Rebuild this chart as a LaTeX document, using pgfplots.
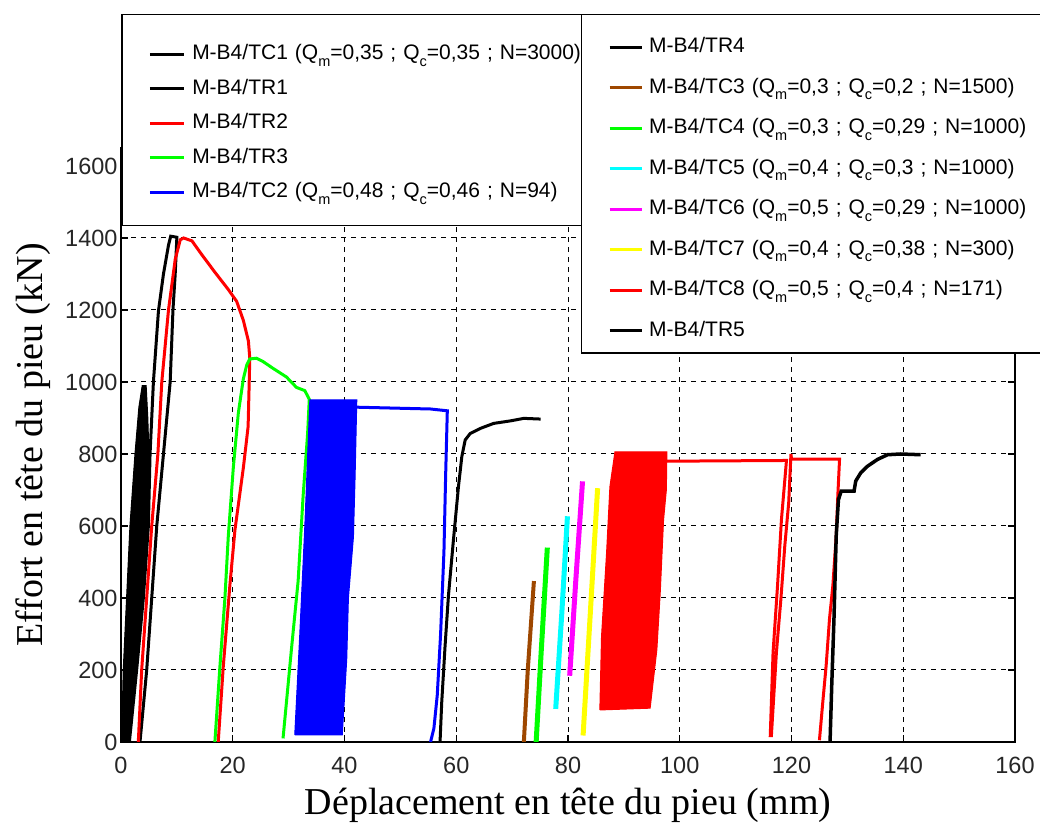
\documentclass[border=0pt]{standalone}
\usepackage{fontspec}
\setmainfont{Liberation Sans}
\newfontfamily\seriffont{Liberation Serif}
\usepackage{pgfplots}
\pgfplotsset{compat=1.18}
\definecolor{brownc}{rgb}{0.62,0.28,0.0}
\definecolor{mygreen}{rgb}{0,1,0}
\definecolor{mycyan}{rgb}{0,1,1}
\definecolor{mymagenta}{rgb}{1,0,1}
\definecolor{myyellow}{rgb}{1,1,0}
\definecolor{myred}{rgb}{1,0,0}
\definecolor{myblue}{rgb}{0,0,1}
\newcommand\sub[1]{\raisebox{-0.32em}{\fontsize{14.5bp}{14.5bp}\selectfont #1}}
\begin{document}
\begin{tikzpicture}
\begin{axis}[
  at={(121bp,81bp)}, anchor=south west,
  scale only axis, width=894bp, height=594bp,
  xmin=0, xmax=160, ymin=0, ymax=1650,
  xtick={0,20,...,160}, ytick={0,200,...,1600},
  grid=major,
  major grid style={black, line width=1bp, dash pattern=on 5bp off 5bp},
  axis line style={black, line width=1.5bp},
  tick align=inside, major tick length=7bp,
  tick style={black, line width=1.2bp},
  ticklabel style={font=\fontsize{23.5bp}{28bp}\selectfont, text=black!85},
  /pgf/number format/assume math mode=true,
  /pgf/number format/1000 sep={},
  xticklabel style={yshift=-12bp},
  xlabel={Déplacement en tête du pieu (mm)},
  ylabel={Effort en tête du pieu (kN)},
  xlabel style={at={(axis description cs:0.5,0)}, anchor=base, yshift=-72bp, font=\seriffont\fontsize{38bp}{40bp}\selectfont},
  ylabel style={at={(axis description cs:-0.08837,0.5)}, anchor=base, font=\seriffont\fontsize{38bp}{40bp}\selectfont},
  legend style={at={(axis description cs:0,1.2256)}, anchor=north west, draw=black, line width=1.5bp, fill=white,
    inner xsep=0bp, inner ysep=21bp, row sep=3.5bp, font=\fontsize{21bp}{25bp}\selectfont,
    nodes={inner sep=1bp, text height=23bp, text depth=6bp},
    /tikz/every even column/.append style={text width=400bp, align=left},
    /tikz/every odd column/.append style={column sep=6bp}},
  legend cell align=left,
  legend image code/.code={\path[draw=none, fill=none] (0bp,-10bp) rectangle (1bp,10bp); \draw[#1, line width=3bp] (28bp,-3bp) -- (62bp,-3bp);},
]
% TC1 cyclic band
\addplot[black, fill=black, line width=1bp] coordinates {
(0.1,0) (0.4,200) (1.0,400) (1.6,600) (2.5,800) (3.2,930) (3.8,990) (4.5,990) (4.8,900) (5.0,800) (4.8,600) (3.9,400) (2.7,200) (1.5,0) (0.1,0)};
\addlegendentry{M-B4/TC1 (Q\sub{m}=0,35 ; Q\sub{c}=0,35 ; N=3000)}
% TR1
\addplot[black, line width=3bp] coordinates {
(1.5,0) (2.8,200) (4.0,400) (4.9,600) (5.2,800) (5.8,1000) (6.7,1197) (7.6,1300) (8.5,1380) (8.9,1405) (10.0,1402) (9.7,1300) (9.3,1200) (8.8,1000) (7.6,800) (6.4,600) (5.5,400) (4.6,200) (3.4,0)};
\addlegendentry{M-B4/TR1}
% TR2
\addplot[myred, line width=3bp] coordinates {
(3.1,0) (3.7,200) (4.6,400) (5.5,600) (6.6,800) (7.3,1000) (8.5,1200) (9.7,1340) (10.6,1395) (11.2,1400) (12.7,1392) (14.4,1355) (16.8,1305) (19.2,1257) (20.7,1224) (21.9,1171) (22.8,1114) (23.05,1066) (22.75,876) (21.9,762) (20.4,590) (19.5,438) (18.3,209) (17.4,0)};
\addlegendentry{M-B4/TR2}
% TR3
\addplot[mygreen, line width=3bp] coordinates {
(16.8,0) (17.7,209) (18.6,400) (19.2,571) (20.1,762) (21.0,914) (21.9,1009) (22.5,1047) (23.05,1064) (24.25,1066) (25.4,1057) (27.2,1038) (29.6,1014) (31.4,985) (32.9,976) (33.7,952) (33.4,857) (32.6,685) (31.7,447) (30.5,257) (29.0,10)};
\addlegendentry{M-B4/TR3}
% TC2 cyclic block
\addplot[myblue, fill=myblue, line width=1bp] coordinates {
(31.1,20) (32.0,300) (32.9,600) (33.8,950) (42.2,950) (41.9,740) (41.6,570) (40.7,400) (40.4,230) (39.6,20) (31.1,20)};
\addlegendentry{M-B4/TC2 (Q\sub{m}=0,48 ; Q\sub{c}=0,46 ; N=94)}
\addplot[myblue, line width=3bp, forget plot] coordinates {
(42.2,930) (55.4,925) (58.4,920) (58.1,740) (57.8,530) (57.2,300) (56.6,130) (56.0,38) (55.4,0)};
% TR4
\addplot[black, line width=3bp, forget plot] coordinates {
(57.1,0) (57.4,110) (58.0,267) (58.6,406) (59.5,562) (60.4,710) (61.0,793) (61.6,839) (62.5,857) (64.3,871) (66.7,885) (69.7,892) (72.1,899) (75.1,897)};
% TC3 - TC7
\addplot[brownc, line width=4bp, forget plot] coordinates {(72.1,0) (72.8,200) (73.9,447)};
\addplot[mygreen, line width=5bp, forget plot] coordinates {(74.3,0) (75.2,250) (76.3,540)};
\addplot[mycyan, line width=5bp, forget plot] coordinates {(77.8,92) (78.9,360) (79.9,627)};
\addplot[mymagenta, line width=5bp, forget plot] coordinates {(80.3,184) (81.4,450) (82.6,724)};
\addplot[myyellow, line width=5bp, forget plot] coordinates {(82.7,18) (84.0,360) (85.3,705)};
% TC8 cyclic block
\addplot[myred, fill=myred, line width=1bp, forget plot] coordinates {
(85.7,89) (86.0,293) (86.9,524) (87.5,709) (88.4,806) (97.7,806) (97.6,700) (97.1,617) (96.5,413) (95.9,256) (95.0,135) (94.7,94) (85.7,89)};
\addplot[myred, line width=3bp, forget plot] coordinates {
(97.7,780) (119.1,782) (118.2,618) (117.5,434) (116.7,249) (116.2,18) (116.4,18) (117.3,249) (118.1,397) (118.8,545) (119.5,665) (119.9,800) (120.0,786) (128.6,786) (128.3,688) (128.0,572) (127.4,434) (126.8,342) (126.2,212) (125.6,111) (125.0,5)};
% TR5
\addplot[black, line width=3.5bp, forget plot] coordinates {
(126.9,0) (127.2,157) (127.6,342) (128.0,572) (128.4,673) (128.9,697) (131.2,697) (131.5,725) (132.4,748) (133.6,766) (135.4,785) (137.2,798) (139.5,800) (143.1,798)};
\end{axis}
\begin{axis}[
  at={(121bp,81bp)}, anchor=south west,
  scale only axis, width=894bp, height=594bp,
  xmin=0, xmax=160, ymin=0, ymax=1650, hide axis,
  legend style={at={(axis description cs:0.5145,1.2256)}, anchor=north west, draw=black, line width=1.5bp, fill=white,
    inner xsep=0bp, inner ysep=16bp, row sep=17.5bp, font=\fontsize{21bp}{25bp}\selectfont,
    nodes={inner sep=1bp, text height=21bp, text depth=0bp},
    /tikz/every even column/.append style={text width=420bp, align=left},
    /tikz/every odd column/.append style={column sep=5bp}},
  legend cell align=left,
  legend image code/.code={\path[draw=none, fill=none] (0bp,-10bp) rectangle (1bp,10bp); \draw[#1, line width=3bp] (28bp,-5bp) -- (60bp,-5bp);},
]
\addlegendimage{black}
\addlegendentry{M-B4/TR4}
\addlegendimage{brownc}
\addlegendentry{M-B4/TC3 (Q\sub{m}=0,3 ; Q\sub{c}=0,2 ; N=1500)}
\addlegendimage{mygreen}
\addlegendentry{M-B4/TC4 (Q\sub{m}=0,3 ; Q\sub{c}=0,29 ; N=1000)}
\addlegendimage{mycyan}
\addlegendentry{M-B4/TC5 (Q\sub{m}=0,4 ; Q\sub{c}=0,3 ; N=1000)}
\addlegendimage{mymagenta}
\addlegendentry{M-B4/TC6 (Q\sub{m}=0,5 ; Q\sub{c}=0,29 ; N=1000)}
\addlegendimage{myyellow}
\addlegendentry{M-B4/TC7 (Q\sub{m}=0,4 ; Q\sub{c}=0,38 ; N=300)}
\addlegendimage{myred}
\addlegendentry{M-B4/TC8 (Q\sub{m}=0,5 ; Q\sub{c}=0,4 ; N=171)}
\addlegendimage{black}
\addlegendentry{M-B4/TR5}
\end{axis}
\pgfresetboundingbox
\useasboundingbox (0bp,0bp) rectangle (1040bp,823bp);
\end{tikzpicture}
\end{document}
